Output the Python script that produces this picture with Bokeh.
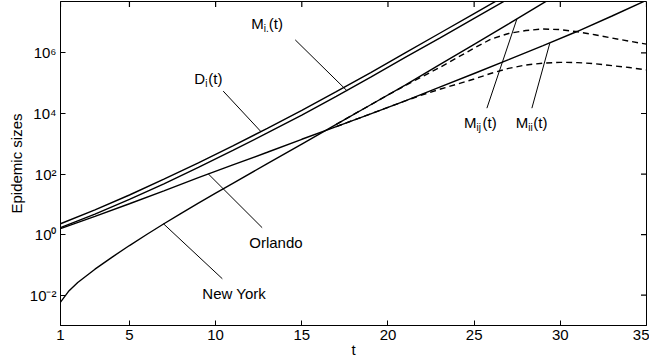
import math
from bokeh.plotting import figure
from bokeh.models import Label, FixedTicker, CustomJSTickFormatter
from bokeh.embed import file_html
from bokeh.resources import INLINE

# ---------------- data ----------------
t_d = [1, 3, 5, 7, 9, 11, 13, 15, 17, 19, 21, 23, 25, 27]
d_i = [2.29, 6.61, 20.4, 67.6, 234, 851, 3.24e3, 1.26e4, 5.25e4, 2.24e5,
       1.0e6, 4.47e6, 2.0e7, 8.9e7]
m_idot = [1.70, 4.79, 14.5, 47.9, 166, 603, 2.29e3, 8.9e3, 3.7e4, 1.58e5,
          7.1e5, 3.09e6, 1.38e7, 6.2e7]

t_orl = [1, 3, 5, 7, 9, 11, 13, 15, 17, 19, 21, 23, 25, 27, 29, 31, 33, 35]
orlando = [1.58, 4.0, 10.5, 28, 76, 200, 525, 1.41e3, 3.7e3, 9.8e3, 2.6e4,
           7.4e4, 2.1e5, 6.0e5, 1.74e6, 5.2e6, 1.66e7, 5.5e7]

t_ny = [1, 1.5, 2, 3, 4, 5, 6, 7, 8, 9, 10, 11, 13, 15, 17, 19, 21, 23,
        25, 27, 29, 31]
new_york = [5.9e-3, 1.41e-2, 2.63e-2, 7.24e-2, 0.182, 0.437, 1.01, 2.29,
            5.07, 11.0, 23.4, 49.5, 220, 980, 4.4e3, 1.95e4, 8.7e4, 4.1e5,
            1.93e6, 9.1e6, 4.4e7, 2.1e8]

t_mij = [17, 19, 20, 21, 22, 23, 24, 25, 26, 27, 28, 29, 30, 31, 32, 33,
         34, 35]
m_ij = [4.4e3, 1.95e4, 4.1e4, 8.4e4, 1.66e5, 3.3e5, 6.9e5, 1.45e6, 2.9e6,
        4.4e6, 5.5e6, 6.2e6, 5.9e6, 5.0e6, 4.0e6, 3.1e6, 2.45e6, 1.95e6]

t_mii = [17, 19, 21, 22, 23, 24, 25, 26, 27, 28, 29, 30, 31, 32, 33, 34, 35]
m_ii = [3.7e3, 9.8e3, 2.6e4, 4.17e4, 6.3e4, 9.3e4, 1.38e5, 2.14e5, 3.1e5,
        4.0e5, 4.6e5, 4.9e5, 4.8e5, 4.4e5, 3.8e5, 3.3e5, 2.75e5]

x_ticks = [1, 5, 10, 15, 20, 25, 30, 35]
y_ticks = [1e-2, 1, 1e2, 1e4, 1e6]
x_lo, x_hi = 1, 35
y_lo, y_hi = 1e-3, 5e7

# annotation leader lines (data coordinates)
lead_x0 = [14.62, 10.44, 9.57, 6.97, 25.74, 28.35]
lead_y0 = [2.7e6, 5.5e4, 102, 2.3, 1.5e4, 1.5e4]
lead_x1 = [17.63, 12.65, 12.70, 10.39, 27.48, 29.39]
lead_y1 = [5.6e4, 2.45e3, 1.7, 0.035, 1.32e7, 2.1e6]

FONT = "Liberation Sans"

p = figure(width=649, height=360, x_range=(x_lo, x_hi), y_range=(y_lo, y_hi),
           y_axis_type="log", output_backend="svg", toolbar_location=None,
           min_border_left=60, min_border_right=3, min_border_top=1,
           min_border_bottom=35)
p.grid.visible = False
p.outline_line_color = "black"
p.outline_line_width = 1

xt = FixedTicker(ticks=x_ticks, minor_ticks=[])
yt = FixedTicker(ticks=y_ticks, minor_ticks=[])

sup_fmt = CustomJSTickFormatter(code="""
const e = Math.round(Math.log10(tick));
const sup = {'-':'\\u207B','0':'\\u2070','1':'\\u00B9','2':'\\u00B2','3':'\\u00B3',
             '4':'\\u2074','5':'\\u2075','6':'\\u2076','7':'\\u2077','8':'\\u2078','9':'\\u2079'};
return '10' + String(e).split('').map(c => sup[c]).join('');
""")

for ax in p.xaxis:
    ax.ticker = xt
    ax.axis_label = "t"
    ax.axis_label_standoff = -2
    ax.major_label_standoff = 4
for ax in p.yaxis:
    ax.ticker = yt
    ax.formatter = sup_fmt
    ax.axis_label = "Epidemic sizes"
    ax.axis_label_standoff = 2
    ax.major_label_standoff = 4

for ax in list(p.xaxis) + list(p.yaxis):
    ax.major_tick_in = 5
    ax.major_tick_out = 0
    ax.minor_tick_in = 0
    ax.minor_tick_out = 0
    ax.axis_line_color = "black"
    ax.major_tick_line_color = "black"
    ax.major_label_text_font = FONT
    ax.major_label_text_font_size = "15px"
    ax.major_label_text_color = "black"
    ax.axis_label_text_font = FONT
    ax.axis_label_text_font_size = "15px"
    ax.axis_label_text_font_style = "normal"
    ax.axis_label_text_color = "black"

# inward ticks on the top and right edges of the box (half clipped by frame)
p.scatter(x=x_ticks, y=[y_hi] * len(x_ticks), marker="dash", angle=math.pi / 2,
          size=11, line_color="black", line_width=1.2)
p.scatter(x=[x_hi] * len(y_ticks), y=y_ticks, marker="dash",
          size=11, line_color="black", line_width=1.2)

LW = 1.4
p.line(t_d, d_i, line_color="black", line_width=LW)
p.line(t_d, m_idot, line_color="black", line_width=LW)
p.line(t_orl, orlando, line_color="black", line_width=LW)
p.line(t_ny, new_york, line_color="black", line_width=LW)
p.line(t_mij, m_ij, line_color="black", line_width=LW, line_dash="6 4")
p.line(t_mii, m_ii, line_color="black", line_width=LW, line_dash="6 4")

p.segment(x0=lead_x0, y0=lead_y0, x1=lead_x1, y1=lead_y1,
          line_color="black", line_width=1)

RAISE = 5


def lab(x, y, text, dx=0, dy=0, size="15px"):
    p.add_layout(Label(x=x, y=y, text=text, x_offset=dx, y_offset=dy + RAISE,
                       text_font=FONT, text_font_size=size,
                       text_color="black", text_baseline="alphabetic"))


# M_i.(t)
lab(12.07, 6.6e6, "M")
lab(12.07, 6.6e6, "i.", dx=12.5, dy=-5, size="10px")
lab(12.07, 6.6e6, "(t)", dx=17.5)
# D_i(t)
lab(8.76, 9.5e4, "D")
lab(8.76, 9.5e4, "i", dx=11, dy=-5, size="10px")
lab(8.76, 9.5e4, "(t)", dx=14)
# Orlando, New York
lab(11.95, 0.37, "Orlando")
lab(9.23, 7.8e-3, "New York")
# M_ij(t)
lab(24.41, 3.4e3, "M")
lab(24.41, 3.4e3, "ij", dx=12.5, dy=-5, size="10px")
lab(24.41, 3.4e3, "(t)", dx=18.5)
# M_ii(t)
lab(27.42, 3.4e3, "M")
lab(27.42, 3.4e3, "ii", dx=12.5, dy=-5, size="10px")
lab(27.42, 3.4e3, "(t)", dx=17.5)

open("out.html", "w", encoding="utf-8").write(file_html(p, INLINE))
